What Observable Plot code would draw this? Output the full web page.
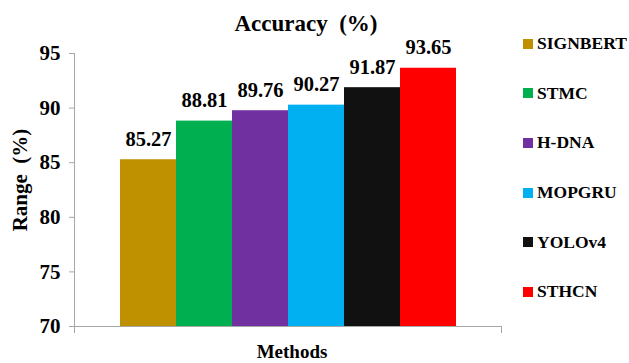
<!DOCTYPE html>
<html>
<head>
<meta charset="utf-8">
<script src="https://cdn.jsdelivr.net/npm/d3@7"></script>
<script src="https://cdn.jsdelivr.net/npm/@observablehq/plot@0.6"></script>
<style>
  html, body { margin: 0; padding: 0; background: #fff; }
  #chart { position: relative; width: 629px; height: 363px; font-family: "Liberation Serif", serif; font-weight: bold; }
  #chart svg, #chart svg text { font-family: "Liberation Serif", serif !important; font-weight: bold; white-space: pre; }
  .legend { position: absolute; left: 523px; top: 19px; }
  .legend .row { height: 49.6px; display: flex; align-items: center; font-size: 17.5px; color: #000; }
  .legend .sw { width: 10px; height: 10px; margin-right: 4px; flex: none; }
</style>
</head>
<body>
<div id="chart"></div>
<script>
// Accuracy of each sign-recognition method
const methods = ["SIGNBERT", "STMC", "H-DNA", "MOPGRU", "YOLOv4", "STHCN"];
const accuracy = [85.27, 88.81, 89.76, 90.27, 91.87, 93.65];
const colors = ["#BF9000", "#00B050", "#7030A0", "#00B0F0", "#111111", "#FF0000"];
const yTicks = [70, 75, 80, 85, 90, 95];
const title = "Accuracy  (%)";
const yLabel = "Range  (%)";
const xLabel = "Methods";

const rows = methods.map((m, i) => ({method: m, value: accuracy[i]}));
const axisGray = "#a6a6a6";
const W = 629, H = 363;
const mTop = 53, mBottom = 37, mLeft = 74, mRight = 128;
const frameH = H - mTop - mBottom;
const serif = "Liberation Serif";

const chart = Plot.plot({
  width: W,
  height: H,
  marginTop: mTop,
  marginBottom: mBottom,
  marginLeft: mLeft,
  marginRight: mRight,
  style: {fontFamily: serif, fontWeight: "bold", fontSize: "20px", color: "#000", background: "#fff"},
  x: {type: "band", domain: methods, padding: 0, insetLeft: 43, insetRight: 43, axis: null},
  y: {domain: [yTicks[0], yTicks[yTicks.length - 1]], axis: null},
  color: {domain: methods, range: colors},
  marks: [
    Plot.barY(rows, {x: "method", y1: yTicks[0], y2: "value", fill: "method", inset: 0}),
    Plot.text(rows, {x: "method", y: "value", text: d => d.value.toFixed(2), lineAnchor: "bottom", dy: -14, fontFamily: serif, fontSize: 20.5, fontWeight: "bold", fill: "#000"}),
    // axis lines with the small end ticks below the baseline
    Plot.frame({anchor: "left", stroke: axisGray, insetBottom: -6}),
    Plot.frame({anchor: "right", stroke: axisGray, insetTop: frameH, insetBottom: -6}),
    Plot.frame({anchor: "bottom", stroke: axisGray}),
    Plot.axisY(yTicks, {tickSize: 5, tickPadding: 9, stroke: axisGray, fill: "#000", fontFamily: serif, fontSize: 21, fontWeight: "bold", label: null}),
    Plot.text([yLabel], {frameAnchor: "left", textAnchor: "middle", rotate: -90, dx: -54, dy: -10, fontFamily: serif, fontSize: 21, fontWeight: "bold", fill: "#000"}),
    Plot.text([title], {frameAnchor: "top", textAnchor: "middle", lineAnchor: "bottom", dx: 18, dy: -23, fontFamily: serif, fontSize: 23, fontWeight: "bold", fill: "#000"}),
    Plot.text([xLabel], {frameAnchor: "bottom", textAnchor: "middle", lineAnchor: "bottom", dx: 4, dy: 31, fontFamily: serif, fontSize: 19, fontWeight: "bold", fill: "#000"})
  ]
});

const root = document.getElementById("chart");
root.appendChild(chart);

// legend on the right
const legend = document.createElement("div");
legend.className = "legend";
methods.forEach((m, i) => {
  const row = document.createElement("div");
  row.className = "row";
  const sw = document.createElement("span");
  sw.className = "sw";
  sw.style.background = colors[i];
  const lab = document.createElement("span");
  lab.textContent = m;
  row.appendChild(sw);
  row.appendChild(lab);
  legend.appendChild(row);
});
root.appendChild(legend);
</script>
</body>
</html>
